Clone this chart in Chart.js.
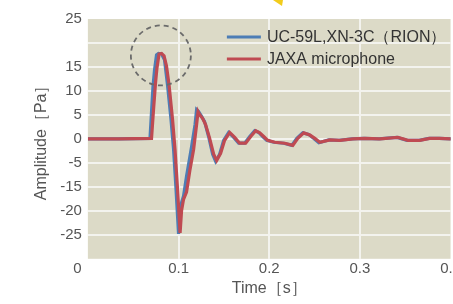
<!DOCTYPE html>
<html>
<head>
<meta charset="utf-8">
<script src="https://cdn.jsdelivr.net/npm/chart.js@4"></script>
<style>
  html, body { margin: 0; padding: 0; background: #fff; overflow: hidden; }
  #wrap { width: 462px; height: 304px; position: relative; }
</style>
</head>
<body>
<div id="wrap"><canvas id="chart"></canvas></div>
<script>
const seriesNames = ["UC-59L,XN-3C（RION）", "JAXA microphone"];

// time [s] and amplitude [Pa]
const rionTime = [0, 0.034, 0.0685, 0.0702, 0.0718, 0.0735, 0.0757, 0.0779, 0.0812, 0.0845, 0.0878, 0.0917, 0.0945, 0.0972, 0.1, 0.1028, 0.1055, 0.1088, 0.1144, 0.1182, 0.1199, 0.1221, 0.1254, 0.1287, 0.1331, 0.1376, 0.1409, 0.1453, 0.1497, 0.1552, 0.1608, 0.1663, 0.1729, 0.1785, 0.184, 0.1884, 0.1928, 0.1972, 0.205, 0.216, 0.2249, 0.2304, 0.237, 0.2436, 0.2492, 0.2547, 0.2657, 0.2768, 0.2912, 0.3044, 0.321, 0.3409, 0.352, 0.3652, 0.3762, 0.3873, 0.402];
const rionAmp = [0, 0, 0.1, 5.7, 10.9, 14.4, 17.5, 17.8, 17.7, 16.5, 11.3, 4.0, -2.2, -10.5, -19.8, -13.6, -11.9, -7.8, -1.6, 3.0, 6.1, 5.7, 4.7, 3.6, 0.5, -3.2, -4.7, -3.2, -0.3, 1.35, 0.3, -0.9, -0.9, 0.5, 1.7, 1.35, 0.5, -0.3, -0.7, -0.9, -1.35, 0.1, 1.25, 0.9, 0.1, -0.8, -0.2, -0.3, 0, 0.1, 0, 0.3, -0.3, -0.3, 0.1, 0.1, 0];

const jaxaTime = [0, 0.034, 0.0702, 0.0724, 0.0746, 0.0762, 0.0785, 0.0812, 0.084, 0.0867, 0.0895, 0.0934, 0.0961, 0.0989, 0.1017, 0.1033, 0.1055, 0.1088, 0.1127, 0.1166, 0.1199, 0.1215, 0.1238, 0.1265, 0.1298, 0.1343, 0.1387, 0.142, 0.1464, 0.1508, 0.1564, 0.1619, 0.1674, 0.174, 0.1796, 0.1851, 0.1895, 0.1939, 0.1983, 0.2061, 0.2171, 0.226, 0.2315, 0.2381, 0.2448, 0.2503, 0.2558, 0.2669, 0.2779, 0.2923, 0.3055, 0.322, 0.342, 0.353, 0.366, 0.377, 0.388, 0.402];
const jaxaAmp = [0, 0, 0.1, 6.1, 11.7, 14.8, 17.7, 17.8, 17.3, 15.2, 11.3, 4.0, -2.2, -10.5, -19.6, -15.0, -12.6, -11.1, -6.3, -2.2, 3.0, 5.7, 4.9, 4.3, 3.0, 0.1, -3.2, -4.5, -3.0, -0.3, 1.35, 0.3, -0.9, -0.9, 0.5, 1.7, 1.25, 0.5, -0.3, -0.7, -0.9, -1.35, 0.1, 1.25, 0.8, 0.1, -0.7, -0.2, -0.3, 0, 0.1, 0, 0.3, -0.3, -0.3, 0.1, 0.1, 0];

// the y labels as printed on the original (it skips -10)
const yTickValues = [25, 20, 15, 10, 5, 0, -5, -10, -15, -20, -25];
const yTickLabels = ["25", "", "15", "10", "5", "0", "-5", "-15", "-20", "-25", ""];
const xTickValues = [0, 0.1, 0.2, 0.3, 0.4];
const xTickLabels = ["0     ", "0.1", "0.2", "0.3", "0.4"];

// dashed circle around the first peak
const circleAt = { x: 0.0805, y: 17.4 };

function toPoints(xs, ys) {
  return xs.map((x, i) => ({ x: x, y: ys[i] }));
}

const plotBg = {
  id: "plotBg",
  beforeDraw(chart) {
    const { ctx, chartArea } = chart;
    ctx.save();
    ctx.fillStyle = "#dcdac7";
    ctx.fillRect(chartArea.left, chartArea.top, chartArea.right - chartArea.left, chartArea.bottom - chartArea.top);
    ctx.restore();
  },
};

const extras = {
  id: "extras",
  afterDraw(chart) {
    const { ctx, chartArea, scales } = chart;
    ctx.save();
    // dashed circle
    ctx.strokeStyle = "#6b6b6b";
    ctx.lineWidth = 1.8;
    ctx.setLineDash([5, 4]);
    ctx.beginPath();
    ctx.arc(scales.x.getPixelForValue(circleAt.x), scales.y.getPixelForValue(circleAt.y), 30, 0, Math.PI * 2);
    ctx.stroke();
    ctx.setLineDash([]);

    // legend
    const lx = chartArea.left + 139;
    const ly = chartArea.top + 18;
    ctx.font = "16px 'Liberation Sans', Arial, sans-serif";
    ctx.textBaseline = "middle";
    chart.data.datasets.forEach((ds, i) => {
      const y = ly + i * 22;
      ctx.strokeStyle = ds.borderColor;
      ctx.lineWidth = 3;
      ctx.beginPath();
      ctx.moveTo(lx, y);
      ctx.lineTo(lx + 34, y);
      ctx.stroke();
      ctx.fillStyle = "#333";
      ctx.fillText(ds.label, lx + 40, y + 1);
    });

    // little yellow mark at the top edge
    ctx.fillStyle = "#f2cc1c";
    ctx.beginPath();
    ctx.moveTo(273, 0);
    ctx.lineTo(283, 0);
    ctx.lineTo(282, 6);
    ctx.closePath();
    ctx.fill();
    ctx.restore();
  },
};

const gridColor = (axisMin, axisMax) => (c) =>
  c.tick && (Math.abs(c.tick.value - axisMin) < 1e-9 || Math.abs(c.tick.value - axisMax) < 1e-9)
    ? "rgba(0,0,0,0)"
    : "#f3f3ee";

new Chart(document.getElementById("chart"), {
  type: "line",
  data: {
    datasets: [
      {
        label: seriesNames[0],
        data: toPoints(rionTime, rionAmp),
        borderColor: "#4d7db5",
        borderWidth: 3.2,
        pointRadius: 0,
        tension: 0,
        order: 2,
      },
      {
        label: seriesNames[1],
        data: toPoints(jaxaTime, jaxaAmp),
        borderColor: "#bf4a52",
        borderWidth: 3.2,
        pointRadius: 0,
        tension: 0,
        order: 1,
      },
    ],
  },
  options: {
    responsive: true,
    maintainAspectRatio: false,
    animation: false,
    layout: { padding: { top: 19, left: 0, right: 0, bottom: 0 } },
    plugins: {
      legend: { display: false },
      tooltip: { enabled: false },
    },
    scales: {
      x: {
        type: "linear",
        min: 0,
        max: 0.4,
        afterBuildTicks: (axis) => {
          axis.ticks = xTickValues.map((v) => ({ value: v }));
        },
        border: { display: false },
        grid: { color: gridColor(0, 0.4), lineWidth: 2, drawTicks: false },
        ticks: {
          padding: 1,
          color: "#555",
          font: { family: "'Liberation Sans', Arial, sans-serif", size: 15 },
          maxRotation: 0,
          callback: (v) => {
            const i = xTickValues.findIndex((t) => Math.abs(t - v) < 1e-9);
            return i >= 0 ? xTickLabels[i] : "";
          },
        },
        title: {
          display: true,
          text: "Time［s］",
          color: "#555",
          font: { family: "'Liberation Sans', Arial, sans-serif", size: 16 },
          padding: { top: 0, bottom: 6 },
        },
      },
      y: {
        min: -25,
        max: 25,
        afterBuildTicks: (axis) => {
          axis.ticks = yTickValues.map((v) => ({ value: v }));
        },
        border: { display: false },
        grid: { color: gridColor(-25, 25), lineWidth: 2, drawTicks: false },
        ticks: {
          padding: 6,
          color: "#555",
          font: { family: "'Liberation Sans', Arial, sans-serif", size: 15 },
          callback: (v) => {
            const i = yTickValues.indexOf(v);
            return i >= 0 ? yTickLabels[i] : "";
          },
        },
        title: {
          display: true,
          text: "Amplitude［Pa］",
          color: "#555",
          font: { family: "'Liberation Sans', Arial, sans-serif", size: 16 },
          padding: { top: 32, bottom: 3 },
        },
      },
    },
  },
  plugins: [plotBg, extras],
});
</script>
</body>
</html>
